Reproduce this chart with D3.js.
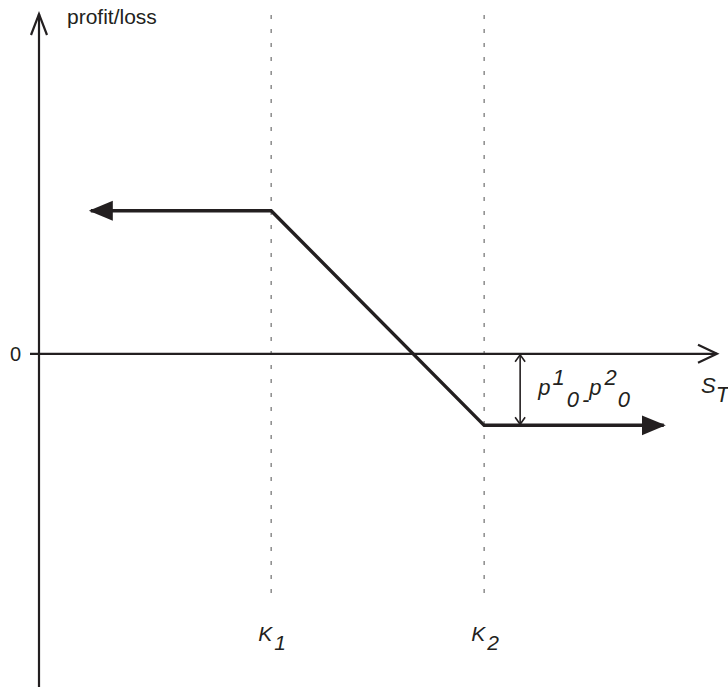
<!DOCTYPE html>
<html>
<head>
<meta charset="utf-8">
<script src="https://cdn.jsdelivr.net/npm/d3@7"></script>
<style>
  html, body { margin: 0; padding: 0; background: #fff; }
  svg text { font-family: "Liberation Sans", Arial, Helvetica, sans-serif; fill: #231f20; }
  .it { font-style: italic; }
</style>
</head>
<body>
<div id="chart"></div>
<script>
// strikes on the S_T axis
const strikes = [3.27, 6.27];
const strikeNames = ["1", "2"];
// payoff polyline (S_T, profit)
const payoffS = [0.73, 3.27, 6.27, 8.80];
const payoffPL = [2, 2, -1, -1];
// y tick labels
const yTicks = [0];
// net premium bracket p1_0 - p2_0
const premiumBracket = [0, -1];

document.addEventListener("DOMContentLoaded", function() {

    let dims = { width: 728, height: 687 };
    let ink = "#231f20";

    let svg = d3.select("#chart")
        .append("svg")
            .attr("width", dims.width)
            .attr("height", dims.height);

    let x = d3.scaleLinear().domain([0, 9.55]).range([39, 717]);
    let y = d3.scaleLinear().domain([-4.7, 4.75]).range([690, 14]);

    // dashed strike guides
    svg.selectAll(".strike")
        .data(strikes)
        .enter()
        .append("line")
            .attr("x1", d => x(d)).attr("x2", d => x(d))
            .attr("y1", 15).attr("y2", 600)
            .style("stroke", "#6e6e6e")
            .style("stroke-width", 1.2)
            .style("stroke-dasharray", "4,10");

    // axes
    svg.append("line")
        .attr("x1", x(0)).attr("x2", x(0))
        .attr("y1", y.range()[0]).attr("y2", y.range()[1])
        .style("stroke", ink).style("stroke-width", 2.2);
    svg.append("path")
        .attr("d", `M${x(0) - 8},${y.range()[1] + 21} L${x(0)},${y.range()[1]} L${x(0) + 8},${y.range()[1] + 21}`)
        .style("fill", "none").style("stroke", ink).style("stroke-width", 2.2);

    svg.append("line")
        .attr("x1", x(0) - 9).attr("x2", x.range()[1])
        .attr("y1", y(0)).attr("y2", y(0))
        .style("stroke", ink).style("stroke-width", 2.2);
    svg.append("path")
        .attr("d", `M${x.range()[1] - 19},${y(0) - 9} L${x.range()[1]},${y(0)} L${x.range()[1] - 19},${y(0) + 9}`)
        .style("fill", "none").style("stroke", ink).style("stroke-width", 2.2);

    svg.selectAll(".ytick")
        .data(yTicks)
        .enter()
        .append("text")
            .attr("x", 21)
            .attr("y", d => y(d) + 7)
            .attr("text-anchor", "end")
            .style("font-size", "20px")
            .text(d => d);

    svg.append("text")
        .attr("x", 67).attr("y", 24)
        .style("font-size", "21px")
        .text("profit/loss");

    // markers
    let defs = svg.append("defs");
    defs.append("marker")
        .attr("id", "solid")
        .attr("markerUnits", "userSpaceOnUse")
        .attr("viewBox", "0 -11 26 22")
        .attr("refX", 22).attr("refY", 0)
        .attr("markerWidth", 26).attr("markerHeight", 22)
        .attr("orient", "auto-start-reverse")
        .append("path")
            .attr("d", "M0,-10 L24,0 L0,10 Z")
            .style("fill", ink);
    defs.append("marker")
        .attr("id", "open")
        .attr("markerUnits", "userSpaceOnUse")
        .attr("viewBox", "-10 -7 12 14")
        .attr("refX", 0).attr("refY", 0)
        .attr("markerWidth", 12).attr("markerHeight", 14)
        .attr("orient", "auto-start-reverse")
        .append("path")
            .attr("d", "M-7,-5 L0,0 L-7,5")
            .style("fill", "none").style("stroke", ink).style("stroke-width", 1.6);

    // payoff
    let payoff = d3.zip(payoffS, payoffPL);
    svg.append("path")
        .datum(payoff)
        .attr("d", d3.line().x(d => x(d[0])).y(d => y(d[1])))
        .style("fill", "none")
        .style("stroke", ink)
        .style("stroke-width", 3.4)
        .style("stroke-linejoin", "miter")
        .attr("marker-start", "url(#solid)")
        .attr("marker-end", "url(#solid)");

    // premium bracket
    let bx = x(strikes[1]) + 36;
    svg.append("line")
        .attr("x1", bx).attr("x2", bx)
        .attr("y1", y(premiumBracket[0]) + 1).attr("y2", y(premiumBracket[1]) - 1)
        .style("stroke", ink).style("stroke-width", 1.6)
        .attr("marker-start", "url(#open)")
        .attr("marker-end", "url(#open)");

    let lbl = svg.append("text")
        .attr("class", "it")
        .attr("x", bx + 18).attr("y", 395)
        .style("font-size", "22px");
    lbl.append("tspan").text("p");
    lbl.append("tspan").attr("dx", 2).attr("dy", -10).text("1");
    lbl.append("tspan").attr("dx", 2).attr("dy", 22).text("0");
    lbl.append("tspan").attr("dx", 3).text("-");
    lbl.append("tspan").attr("dx", 0).attr("dy", -12).text("p");
    lbl.append("tspan").attr("dx", 3).attr("dy", -10).text("2");
    lbl.append("tspan").attr("dx", 1).attr("dy", 22).text("0");

    // S_T axis label
    let st = svg.append("text")
        .attr("class", "it")
        .attr("x", 701).attr("y", 393)
        .style("font-size", "22px");
    st.append("tspan").text("S");
    st.append("tspan").attr("dy", 9).text("T");

    // strike labels
    svg.selectAll(".klabel")
        .data(strikes)
        .enter()
        .append("text")
            .attr("class", "it")
            .attr("x", d => x(d) - 13)
            .attr("y", 641)
            .style("font-size", "21px")
            .each(function(d, i) {
                d3.select(this).append("tspan").text("K");
                d3.select(this).append("tspan").attr("dx", 2).attr("dy", 9).text(strikeNames[i]);
            });
});
</script>
</body>
</html>
